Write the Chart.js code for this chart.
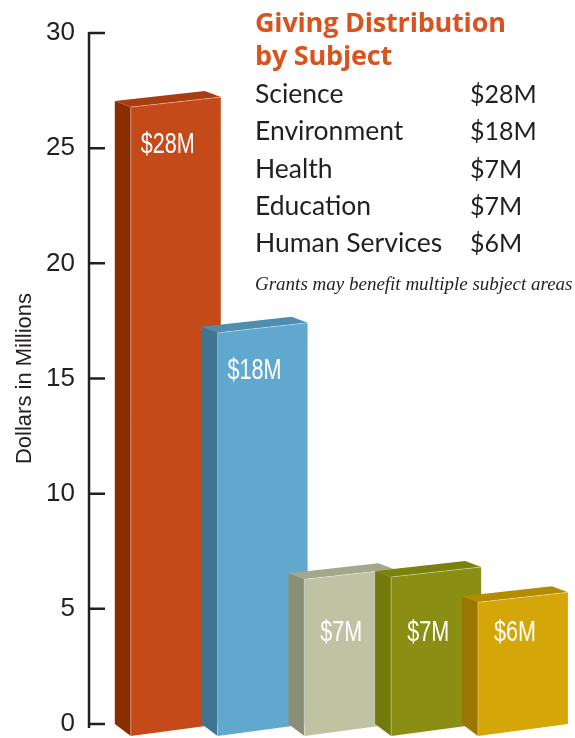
<!DOCTYPE html>
<html lang="en">
<head>
<meta charset="UTF-8">
<title>Giving Distribution by Subject</title>
<script src="https://cdn.jsdelivr.net/npm/chart.js@4.4.1/dist/chart.umd.min.js"></script>
<style>
  html, body { margin: 0; padding: 0; background: #fff; }
  #wrap { position: relative; width: 575px; height: 738px; overflow: hidden; }
  #giving { position: absolute; left: 0; top: 0; }
  .title { position: absolute; left: 255px; top: 5px; font-family: "Open Sans", sans-serif; font-weight: 700;
           font-size: 27px; line-height: 33px; color: #d9531f; white-space: nowrap; letter-spacing: -0.2px; }
  .table { position: absolute; left: 255px; top: 75px; font-family: Lato, sans-serif; font-size: 26.5px;
           line-height: 37.25px; color: #231f20; }
  .row { position: relative; height: 37.25px; white-space: nowrap; }
  .row .amt { position: absolute; left: 215px; font-size: 25px; }
  .note { position: absolute; left: 255px; top: 274px; font-family: "Liberation Serif", serif; font-style: italic;
          font-size: 19px; line-height: 20px; color: #231f20; white-space: nowrap; }
</style>
</head>
<body>
<div id="wrap">
  <canvas id="giving" width="575" height="738"></canvas>
  <div class="title">Giving Distribution<br>by Subject</div>
  <div class="table" id="table"></div>
  <div class="note">Grants may benefit multiple subject areas</div>
</div>
<script>
  // values as printed on the chart ($ millions)
  const subjects = ['Science', 'Environment', 'Health', 'Education', 'Human Services'];
  const amounts = [28, 18, 7, 7, 6];
  // bar tops as drawn, read against the axis
  const barHeights = [27.0, 17.2, 6.5, 6.6, 5.5];
  const yTicks = [0, 5, 10, 15, 20, 25, 30];

  // face colours: front / left side / top
  const frontColors = ['#c44a19', '#60a8cd', '#c0c3a3', '#8a8f13', '#d4a608'];
  const sideColors = ['#8a2e00', '#3f7590', '#8b8e77', '#727a0a', '#9a7700'];
  const topColors = ['#a93c10', '#4e8fb0', '#a4a78b', '#7b820c', '#b38c00'];

  const ink = '#231f20';
  const sans = '"Liberation Sans", Arial, sans-serif';

  // legend table
  const table = document.getElementById('table');
  subjects.forEach((s, i) => {
    const row = document.createElement('div');
    row.className = 'row';
    row.innerHTML = `<span>${s}</span><span class="amt">$${amounts[i]}M</span>`;
    table.appendChild(row);
  });

  function poly(ctx, pts, color) {
    ctx.beginPath();
    ctx.moveTo(pts[0][0], pts[0][1]);
    for (let k = 1; k < pts.length; k++) ctx.lineTo(pts[k][0], pts[k][1]);
    ctx.closePath();
    ctx.fillStyle = color;
    ctx.fill();
  }

  // axis line with inward tick marks
  const axisLine = {
    id: 'axisLine',
    beforeDatasetsDraw(chart) {
      const ctx = chart.ctx;
      const y = chart.scales.y;
      const x0 = chart.chartArea.left;
      ctx.save();
      ctx.strokeStyle = ink;
      ctx.lineWidth = 2.5;
      ctx.beginPath();
      ctx.moveTo(x0, y.getPixelForValue(y.max) - 1);
      ctx.lineTo(x0, y.getPixelForValue(y.min) + 4);
      yTicks.forEach(v => {
        const py = y.getPixelForValue(v);
        ctx.moveTo(x0, py);
        ctx.lineTo(x0 + 16, py);
      });
      ctx.stroke();
      ctx.restore();
    }
  };

  // 3d boxes drawn from the bar elements
  const boxes = {
    id: 'boxes',
    afterDatasetsDraw(chart) {
      const ctx = chart.ctx;
      const y = chart.scales.y;
      const floor = y.getPixelForValue(3.6);
      const dx = 16, dy = 6;
      chart.getDatasetMeta(0).data.forEach((bar, i) => {
        const L = bar.x - bar.width / 2, R = bar.x + bar.width / 2;
        const tl = bar.y + 5, tr = bar.y - 5;
        const bl = bar.base + 12, br = bar.base;
        poly(ctx, [[L, tl], [L - dx, tl - dy], [L - dx, bl - 12], [L, bl]], sideColors[i]);
        poly(ctx, [[L, tl], [R, tr], [R - dx, tr - dy], [L - dx, tl - dy]], topColors[i]);
        poly(ctx, [[L, tl], [R, tr], [R, br], [L, bl]], frontColors[i]);
        // thin light edges between faces
        ctx.save();
        ctx.strokeStyle = 'rgba(255,255,255,0.35)';
        ctx.lineWidth = 1;
        ctx.beginPath();
        ctx.moveTo(L, bl);
        ctx.lineTo(L, tl);
        ctx.lineTo(R, tr);
        ctx.stroke();
        ctx.restore();
        // condensed white label: near the top of tall boxes, at a fixed level on short ones
        const labelY = tl + 46 < floor - 60 ? tl + 46 : floor;
        ctx.save();
        ctx.translate(bar.x - dx / 2, labelY);
        ctx.scale(0.72, 1);
        ctx.fillStyle = '#fff';
        ctx.font = '30px ' + sans;
        ctx.textAlign = 'center';
        ctx.textBaseline = 'alphabetic';
        ctx.fillText('$' + amounts[i] + 'M', 0, 0);
        ctx.restore();
      });
    }
  };

  new Chart(document.getElementById('giving'), {
    type: 'bar',
    data: {
      datasets: [{
        data: barHeights.map((v, i) => ({ x: i, y: v })),
        backgroundColor: 'rgba(0,0,0,0)',
        barThickness: 90,
        clip: false
      }]
    },
    options: {
      responsive: false,
      animation: false,
      layout: { padding: { top: 33, bottom: 14, left: 0, right: 0 } },
      plugins: { legend: { display: false }, tooltip: { enabled: false } },
      scales: {
        x: { type: 'linear', min: -1, max: 4.6, offset: false, display: false },
        y: {
          min: 0,
          max: 30,
          afterFit(scale) {
            scale.width = 89;
            scale.paddingTop = 0;
            scale.paddingBottom = 0;
          },
          afterBuildTicks(scale) { scale.ticks = yTicks.map(v => ({ value: v })); },
          grid: { display: false, drawTicks: false },
          border: { display: false },
          ticks: { padding: 14, color: ink, font: { family: sans, size: 26 } },
          title: {
            display: true,
            text: 'Dollars in Millions',
            color: ink,
            font: { family: sans, size: 22 },
            padding: { top: 12, bottom: 0 }
          }
        }
      }
    },
    plugins: [axisLine, boxes]
  });
</script>
</body>
</html>
